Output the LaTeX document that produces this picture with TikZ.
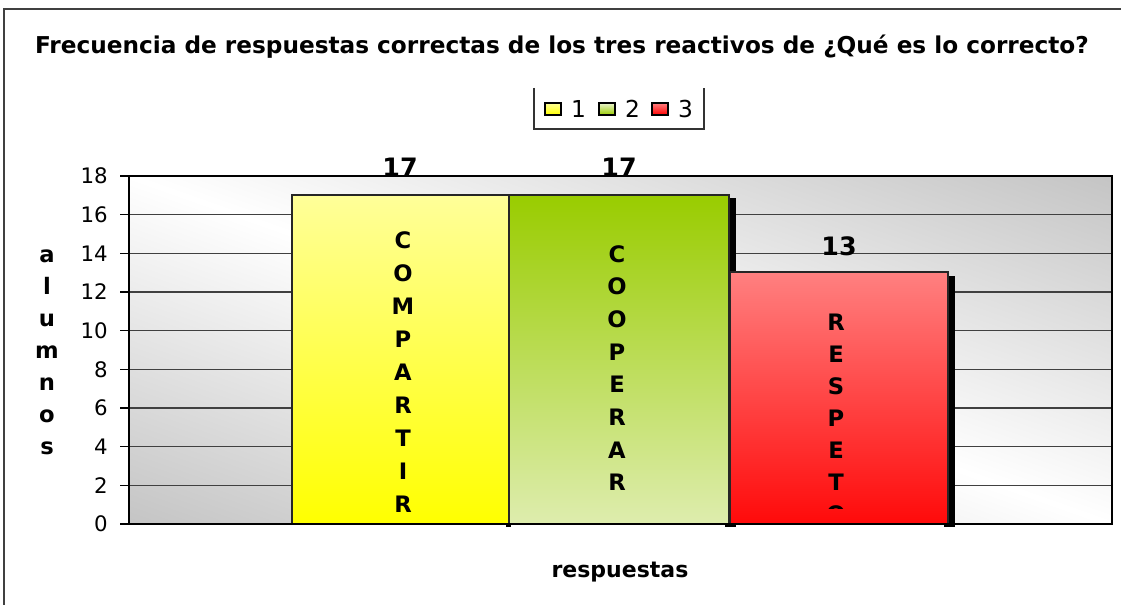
\documentclass[tikz,border=0pt]{standalone}
\usepackage{fontspec}
\setmainfont{DejaVu Sans}
\usetikzlibrary{positioning}
\definecolor{bgdark}{HTML}{C6C6C6}
\definecolor{yelTop}{HTML}{FFFF99}
\definecolor{yelBot}{HTML}{FFFF00}
\definecolor{grnTop}{HTML}{99CC00}
\definecolor{grnBot}{HTML}{DEEDAE}
\definecolor{redTop}{HTML}{FF8080}
\definecolor{redBot}{HTML}{FF0A0A}
\definecolor{framegray}{HTML}{404040}
% light along the top-left/bottom-right diagonal, grey in the other two corners
\pgfdeclarefunctionalshading{plotbg}{\pgfpoint{0bp}{0bp}}{\pgfpoint{100bp}{100bp}}{}{
  add 100 sub abs 50 div dup 1 gt {pop 1} if 0.23 mul 1 exch sub dup dup
}

\begin{document}
\begin{tikzpicture}[x=0.75pt,y=-0.75pt,
  every node/.append style={inner sep=0pt,text=black},
  gridline/.style={draw=black!75,line width=1pt},
  barshadow/.style={fill=black},
  bar/.style={draw=black!85,line width=1pt},
  valuelbl/.style={font=\bfseries\fontsize{19}{19}\selectfont,anchor=base},
  barword/.style={font=\bfseries\fontsize{17}{24.75}\selectfont,align=center,anchor=north},
  ticklbl/.style={font=\fontsize{16}{16}\selectfont,anchor=east},
  legkey/.style={draw=black,line width=0.8pt,minimum width=12pt,minimum height=9pt},
  legtext/.style={font=\fontsize{17.5}{17.5}\selectfont}]
  \useasboundingbox (0,0) rectangle (1121,605);
  \fill[white] (0,0) rectangle (1121,605);
  % outer frame (only left and top show)
  \draw[framegray,line width=1pt] (4,605) -- (4,9) -- (1121,9);
  % title
  \node[font=\bfseries\fontsize{17.4}{17.4}\selectfont] (title) at (562,47)
    {Frecuencia de respuestas correctas de los tres reactivos de ¿Qué es lo correcto?};
  % legend
  \node[legkey,top color=yelTop,bottom color=yelBot] (k1) at (553,109) {};
  \node[legtext,right=7pt of k1] (t1) {1};
  \node[legkey,top color=grnBot!60!white,bottom color=grnTop] (k2) at (607,109) {};
  \node[legtext,right=7pt of k2] (t2) {2};
  \node[legkey,top color=redTop,bottom color=red] (k3) at (660,109) {};
  \node[legtext,right=7pt of k3] (t3) {3};
  \draw[black!80,line width=0.8pt] (534,88) -- (534,129) -- (704,129) -- (704,88);
  % plot area
  \coordinate (o) at (129,524);
  \coordinate (tr) at (1112,176);
  \shade[shading=plotbg] (o) rectangle (tr);
  \foreach \v in {2,4,...,16}
    \draw[gridline] (129,524-19.333*\v) -- (1112,524-19.333*\v);
  \foreach \v in {0,2,...,18} {
    \draw[black,line width=1pt] (120,524-19.333*\v) -- (129,524-19.333*\v);
    \node[ticklbl] (y\v) at (108,524-19.333*\v) {\v};
  }
  % value labels
  \node[valuelbl] (v1) at (400,177) {17};
  \node[valuelbl] (v2) at (619,177) {17};
  \node[valuelbl] (v3) at (839,256) {13};
  % shadows
  \fill[barshadow] (725,198) rectangle (736,527);
  \fill[barshadow] (944,276) rectangle (955,527);
  \fill[barshadow] (506,520) rectangle (511,527);
  \fill[barshadow] (727,520) rectangle (733,527);
  % bars
  \draw[bar,top color=yelTop,bottom color=yelBot] (292,195) rectangle (509,524);
  \draw[bar,top color=grnTop,bottom color=grnBot] (509,195) rectangle (729,524);
  \draw[bar,top color=redTop,bottom color=redBot] (730,272) rectangle (948,524);
  \draw[black,line width=1.5pt] (o) rectangle (tr);
  % words in the bars
  \node[barword] (w1) at (403,231) {C\\O\\M\\P\\A\\R\\T\\I\\R};
  \node[barword,font=\bfseries\fontsize{17}{24.5}\selectfont] (w2) at (617,245) {C\\O\\O\\P\\E\\R\\A\\R};
  \begin{scope}
    \clip (730,272) rectangle (948,509);
    \node[barword,font=\bfseries\fontsize{17}{24}\selectfont] (w3) at (836,314) {R\\E\\S\\P\\E\\T\\O};
  \end{scope}
  % axis titles
  \node[font=\bfseries\fontsize{17}{24}\selectfont,align=center,anchor=north] (ytitle)
    at (47,250) {a\\l\\u\\m\\n\\o\\s};
  \node[font=\bfseries\fontsize{16.5}{16.5}\selectfont] (xtitle) at (620,572) {respuestas};
\end{tikzpicture}
\end{document}
